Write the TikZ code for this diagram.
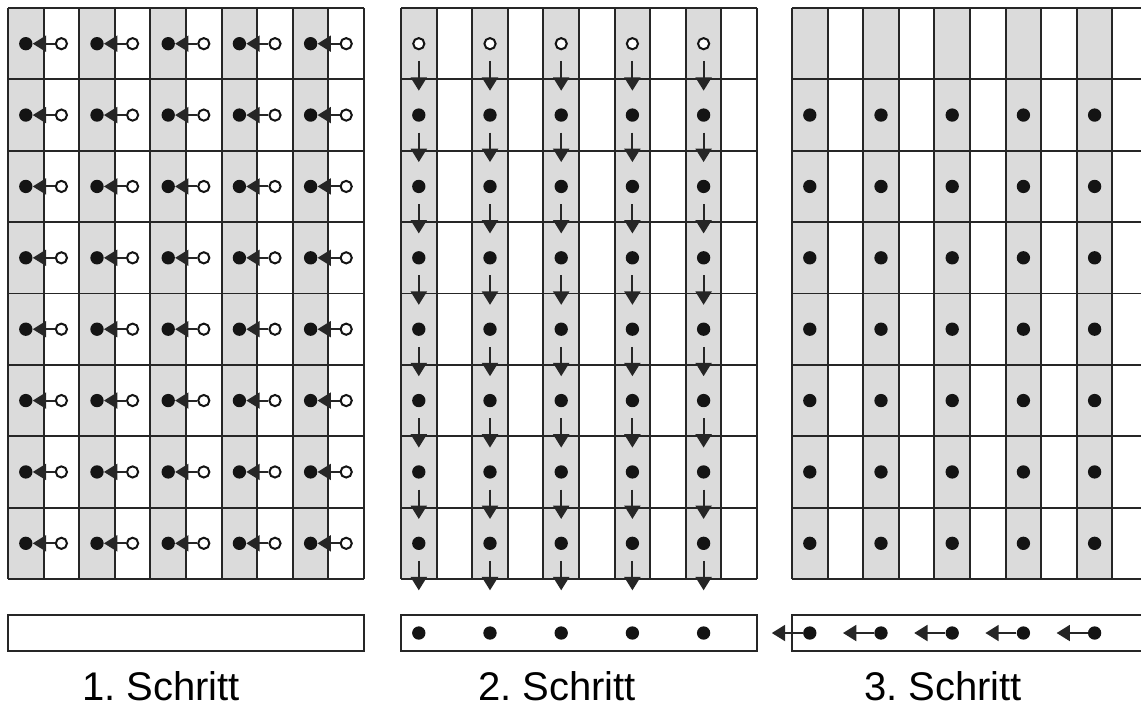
\documentclass[tikz,border=0pt]{standalone}
\usepackage{fontspec}
\setmainfont{Liberation Sans}
\usetikzlibrary{arrows.meta}
\frenchspacing

\def\cw{35.6}
\def\rh{71.375}

\begin{document}
\begin{tikzpicture}[
  x=0.75pt, y=-0.75pt,
  colfill/.style={fill=black!14},
  gridline/.style={line width=1.4pt, draw=black!85},
  box/.style={draw=black!85, line width=1.4pt, minimum width=267pt, minimum height=27pt, inner sep=0pt},
  dot/.style={circle, fill=black!92, inner sep=0pt, minimum size=10pt},
  hollow/.style={circle, draw=black!92, line width=1.5pt, fill=white, inner sep=0pt, minimum size=8.4pt},
  arrow/.style={-{Triangle[length=10pt,width=12pt]}, line width=1.5pt, draw=black!85},
  steplabel/.style={anchor=base, font=\fontsize{30pt}{36pt}\selectfont}
]
\useasboundingbox (0,0) rectangle (1141,708);
\clip (0,0) rectangle (1141,708);

% three panels: grey columns, grid, collecting box below
\foreach \p/\x in {1/8, 2/401, 3/792} {
  \foreach \k in {0,2,4,6,8}
    \fill[colfill] ({\x+\k*\cw},8) rectangle ++(\cw,{8*\rh});
  \foreach \i in {0,...,10}
    \draw[gridline] ({\x+\i*\cw},8) -- ++(0,{8*\rh});
  \foreach \j in {0,...,8}
    \draw[gridline] (\x,{8+\j*\rh}) -- ++({10*\cw},0);
  \node[box] (box\p) at ({\x+5*\cw},633) {};
}

% 1. Schritt: every white cell moves into its grey neighbour
\foreach \r in {1,...,8}
  \foreach \c in {1,...,5} {
    \node[dot] (f1-\r-\c) at ({8+(2*\c-1.5)*\cw}, {8+(\r-0.5)*\rh}) {};
    \node[hollow] (o1-\r-\c) at ({8+(2*\c-0.5)*\cw}, {8+(\r-0.5)*\rh}) {};
    \draw[arrow] (o1-\r-\c) -- (f1-\r-\c);
  }

% 2. Schritt: grey columns are summed downwards
\foreach \c in {1,...,5} {
  \node[hollow] (d2-1-\c) at ({401+(2*\c-1.5)*\cw}, {8+0.5*\rh}) {};
  \foreach \r in {2,...,8}
    \node[dot] (d2-\r-\c) at ({401+(2*\c-1.5)*\cw}, {8+(\r-0.5)*\rh}) {};
  \foreach \r in {1,...,8} {
    \coordinate (e2-\r-\c) at ({401+(2*\c-1.5)*\cw}, {8+(\r-0.5)*\rh+47});
    \draw[arrow, shorten <=8pt] (d2-\r-\c) -- (e2-\r-\c);
  }
  \node[dot] (b2-\c) at ({401+(2*\c-1.5)*\cw}, 633) {};
}

% 3. Schritt: results are passed on to the left
\foreach \c in {1,...,5} {
  \foreach \r in {2,...,8}
    \node[dot] (d3-\r-\c) at ({792+(2*\c-1.5)*\cw}, {8+(\r-0.5)*\rh}) {};
  \node[dot] (b3-\c) at ({792+(2*\c-1.5)*\cw}, 633) {};
  \coordinate (l3-\c) at ({792+(2*\c-1.5)*\cw-38}, 633);
  \draw[arrow] (b3-\c) -- (l3-\c);
}

\node[steplabel] (s1) at (161,700) {1. Schritt};
\node[steplabel] (s2) at (557,700) {2. Schritt};
\node[steplabel] (s3) at (943,700) {3. Schritt};
\end{tikzpicture}
\end{document}
